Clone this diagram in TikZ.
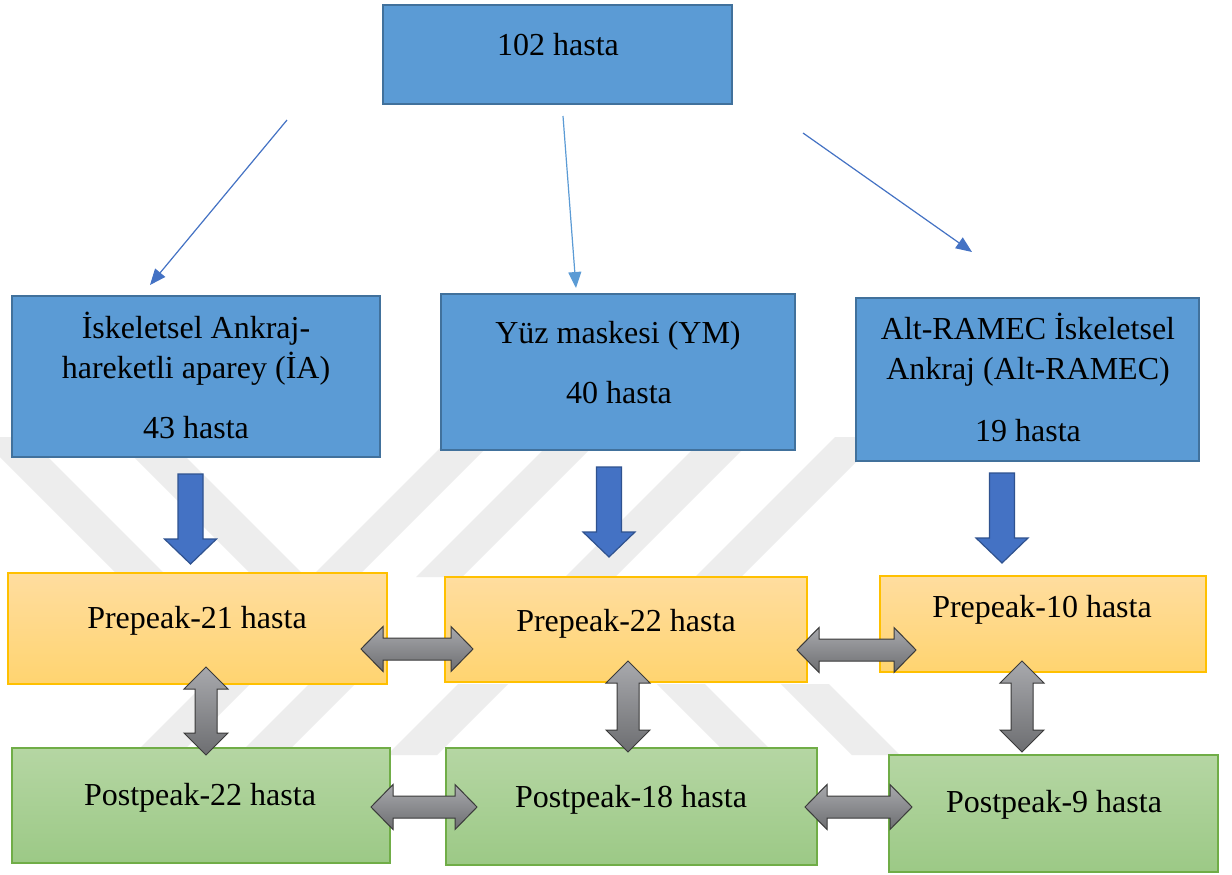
\documentclass[tikz,border=0pt]{standalone}
\usepackage{fontspec}
\setmainfont{Liberation Serif}
\usetikzlibrary{arrows.meta,fit}
\definecolor{boxblue}{HTML}{5B9BD5}
\definecolor{boxblueline}{HTML}{41719C}
\definecolor{arrowblue}{HTML}{4472C4}
\definecolor{arrowblueline}{HTML}{2F528F}
\definecolor{lineblue}{HTML}{4472C4}
\definecolor{lineblueb}{HTML}{5B9BD5}
\definecolor{goldline}{HTML}{FFC000}
\definecolor{goldtop}{HTML}{FFDD9F}
\definecolor{goldbot}{HTML}{FFD470}
\definecolor{greenline}{HTML}{70AD47}
\definecolor{greentop}{HTML}{B5D6A3}
\definecolor{greenbot}{HTML}{9CC986}
\definecolor{graytop}{HTML}{A8A9AD}
\definecolor{graybot}{HTML}{6D6E71}
\definecolor{grayline}{HTML}{3A3A3A}
\definecolor{wmark}{HTML}{EDEDED}
% horizontal double block arrow: x1, x2, y
\newcommand\hdblarrow[3]{\shade[grayarrow] (#1,#3) -- (#1+22,#3-22.5) -- (#1+22,#3-11) -- (#2-22,#3-11) -- (#2-22,#3-22.5) -- (#2,#3) -- (#2-22,#3+22.5) -- (#2-22,#3+11) -- (#1+22,#3+11) -- (#1+22,#3+22.5) -- cycle;}
% vertical double block arrow: x, y1, y2
\newcommand\vdblarrow[3]{\shade[grayarrow] (#1,#2) -- (#1+22,#2+22) -- (#1+11,#2+22) -- (#1+11,#3-22) -- (#1+22,#3-22) -- (#1,#3) -- (#1-22,#3-22) -- (#1-11,#3-22) -- (#1-11,#2+22) -- (#1-22,#2+22) -- cycle;}
\begin{document}
\begin{tikzpicture}[x=0.5pt,y=-0.5pt,
  txt/.style={font=\fontsize{16}{19}\selectfont, inner sep=0pt, anchor=base, text=black},
  bluebox/.style={draw=boxblueline, line width=1pt, fill=boxblue, inner sep=0pt},
  prebox/.style={draw=goldline, line width=0.6pt, top color=goldtop, bottom color=goldbot, inner sep=0pt},
  postbox/.style={draw=greenline, line width=0.6pt, top color=greentop, bottom color=greenbot, inner sep=0pt},
  thinarrow/.style={line width=0.6pt, -{Triangle[length=8pt,width=6.5pt]}},
  blockblue/.style={draw=arrowblueline, line width=0.6pt, fill=arrowblue},
  grayarrow/.style={draw=grayline, line width=0.5pt, top color=graytop, bottom color=graybot},
  wm/.style={fill=wmark, draw=none},
  pics/downblk/.style={code={\draw[blockblue] (-12.5,0) -- (12.5,0) -- (12.5,65) -- (26,65) -- (0,90) -- (-26,65) -- (-12.5,65) -- cycle;}}]
\useasboundingbox (0,0) rectangle (1232,874);
\fill[white] (0,0) rectangle (1232,874);

% watermark (faint)
\fill[wm] (-20,437) -- (28,437) -- (168,577) -- (120,577) -- cycle;
\fill[wm] (114,437) -- (166,437) -- (306,577) -- (254,577) -- cycle;
\fill[wm] (451,437) -- (497,437) -- (357,577) -- (311,577) -- cycle;
\fill[wm] (556,437) -- (602,437) -- (462,577) -- (416,577) -- cycle;
\fill[wm] (705,437) -- (755,437) -- (615,577) -- (565,577) -- cycle;
\fill[wm] (835,437) -- (881,437) -- (741,577) -- (695,577) -- cycle;
\fill[wm] (204,684) -- (250,684) -- (179,755) -- (133,755) -- cycle;
\fill[wm] (309,684) -- (355,684) -- (284,755) -- (238,755) -- cycle;
\fill[wm] (458,684) -- (508,684) -- (437,755) -- (387,755) -- cycle;
\fill[wm] (657,684) -- (705,684) -- (776,755) -- (728,755) -- cycle;
\fill[wm] (781,684) -- (829,684) -- (900,755) -- (852,755) -- cycle;

% boxes
\node[bluebox, fit={(383,5) (732,104)}] (top) {};
\node[bluebox, fit={(12,296) (380,457)}] (bl) {};
\node[bluebox, fit={(441,294) (795,450)}] (bm) {};
\node[bluebox, fit={(856,298) (1199,461)}] (br) {};
\node[prebox, fit={(8,573) (387,684)}] (p1) {};
\node[prebox, fit={(445,577) (807,682)}] (p2) {};
\node[prebox, fit={(880,576) (1206,672)}] (p3) {};
\node[postbox, fit={(12,748) (390,863)}] (g1) {};
\node[postbox, fit={(446,748) (817,865)}] (g2) {};
\node[postbox, fit={(889,755) (1218,872)}] (g3) {};

% texts
\node[txt] (t0) at (558,55) {102 hasta};
\node[txt] (tl1) at (196,338) {İskeletsel Ankraj-};
\node[txt] (tl2) at (196,378) {hareketli aparey (İA)};
\node[txt] (tl3) at (196,438) {43 hasta};
\node[txt] (tm1) at (618,343) {Yüz maskesi (YM)};
\node[txt] (tm2) at (619,403) {40 hasta};
\node[txt] (tr1) at (1028,339) {Alt-RAMEC İskeletsel};
\node[txt] (tr2) at (1028,379) {Ankraj (Alt-RAMEC)};
\node[txt] (tr3) at (1028,441) {19 hasta};
\node[txt] (tp1) at (197,628) {Prepeak-21 hasta};
\node[txt] (tp2) at (626,631) {Prepeak-22 hasta};
\node[txt] (tp3) at (1042,617) {Prepeak-10 hasta};
\node[txt] (tg1) at (200,805) {Postpeak-22 hasta};
\node[txt] (tg2) at (631,807) {Postpeak-18 hasta};
\node[txt] (tg3) at (1054,812) {Postpeak-9 hasta};

% thin arrows from the top box
\coordinate (s1) at (287,120);
\coordinate (e1) at (150,285);
\coordinate (s2) at (563,116);
\coordinate (e2) at (576,288);
\coordinate (s3) at (803,133);
\coordinate (e3) at (972,252);
\draw[thinarrow, draw=lineblue] (s1) -- (e1);
\draw[thinarrow, draw=lineblueb] (s2) -- (e2);
\draw[thinarrow, draw=lineblue] (s3) -- (e3);

% blue block arrows
\pic at (190.5,474) {downblk};
\pic at (609,467) {downblk};
\pic at (1002,473) {downblk};

% gray double arrows
\hdblarrow{361}{473}{649}
\hdblarrow{371}{477}{807}
\hdblarrow{797}{916}{650}
\hdblarrow{805}{912}{807}
\vdblarrow{206}{667}{755}
\vdblarrow{628}{661}{752}
\vdblarrow{1022}{661}{752}
\end{tikzpicture}
\end{document}
